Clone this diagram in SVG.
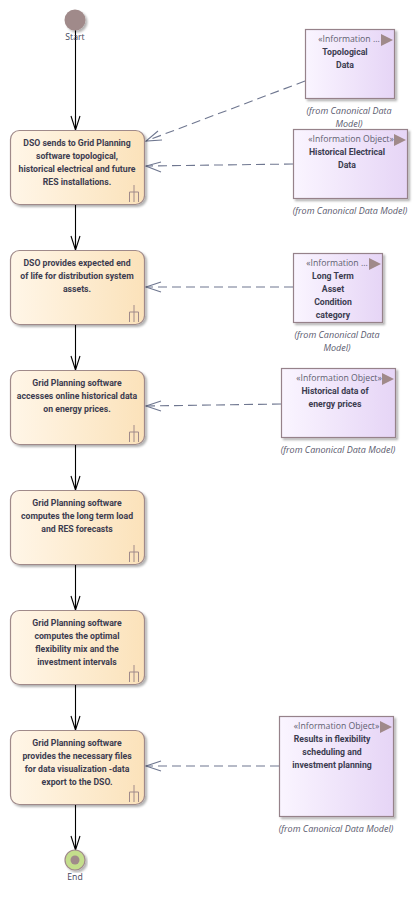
<svg xmlns="http://www.w3.org/2000/svg" width="418" height="903" viewBox="0 0 418 903">
<style>
text{font-family:"Open Sans","Noto Sans","DejaVu Sans",sans-serif;font-size:8.7px;text-anchor:middle;fill:#3c3c50}
.b{font-family:Roboto,"Open Sans",sans-serif;font-weight:700;font-size:8.700px}
.n{font-style:italic;fill:#5a5a6e;font-size:9px}
.s{fill:#5f5f70}
.sm{fill:#44445a;font-size:8.700px}
.act{fill:url(#ga);stroke:#a08a8a;stroke-width:1.2;filter:url(#sh)}
.inf{fill:url(#gi);stroke:#96828a;stroke-width:1.2;filter:url(#sh)}
.fork{fill:none;stroke:#a08a8a;stroke-width:1}
.tri{fill:#a08a8a}
.flow{fill:none;stroke:#000;stroke-width:1.1}
.dep{fill:none;stroke:#6f7790;stroke-width:1.1;stroke-dasharray:9 5}
.hd{fill:none;stroke:#6f7790;stroke-width:1.1}
</style>
<defs>
<linearGradient id="ga"><stop offset="0" stop-color="#fff6e8"/><stop offset="1" stop-color="#fbe2ba"/></linearGradient>
<linearGradient id="gi"><stop offset="0" stop-color="#faf5ff"/><stop offset="1" stop-color="#e6d5f6"/></linearGradient>
<filter id="sh" x="-10%" y="-10%" width="125%" height="125%"><feDropShadow dx="2" dy="2" stdDeviation="1" flood-color="#000" flood-opacity=".3"/></filter>
<path id="ah" d="M-4.500 -14L0 0L4.500 -14M0 -14V0" fill="none" stroke="#000" stroke-width="1.1"/>
<path id="fk" d="M0 0V17M-4.500 17V7H4.500V17" class="fork"/>
</defs>
<g id="connectors">
<path class="flow" d="M75.500 30V130M75.500 205V250M75.500 325V370M75.500 445V490M75.500 565V610M75.500 685V730M75.500 805V850"/>
<use href="#ah" x="75.500" y="130"/><use href="#ah" x="75.500" y="250"/><use href="#ah" x="75.500" y="370"/><use href="#ah" x="75.500" y="490"/><use href="#ah" x="75.500" y="610"/><use href="#ah" x="75.500" y="730"/><use href="#ah" x="75.500" y="850"/>
<path class="dep" d="M305 81L146 141"/><path class="hd" d="M158 131L146 141L162 140"/>
<path class="dep" d="M293 164L146 166"/><path class="hd" d="M161 162L146 166L161 172"/>
<path class="dep" d="M293 287L146 287"/><path class="hd" d="M161 282L146 287L161 292"/>
<path class="dep" d="M281 404L146 406"/><path class="hd" d="M161 401L146 406L161 411"/>
<path class="dep" d="M279 766L146 766"/><path class="hd" d="M161 761L146 766L161 771"/>
</g>
<g id="start"><circle cx="75" cy="20" r="10.500" fill="#a08a8a" filter="url(#sh)"/><text class="sm" x="75" y="40">Start</text></g>
<g id="end"><circle cx="75" cy="860" r="10" fill="#c4de8c" stroke="#a08a8a" stroke-width="1.2" filter="url(#sh)"/><circle cx="75" cy="860" r="4.500" fill="#a08a8a"/><text class="sm" x="75" y="880">End</text></g>
<g id="a1"><rect class="act" x="10.500" y="130.500" width="134" height="74" rx="9"/><use href="#fk" x="134" y="185"/><text class="b" x="77" y="146">DSO sends to Grid Planning</text><text class="b" x="77" y="159">software topological,</text><text class="b" x="77" y="172">historical electrical and future</text><text class="b" x="77" y="185">RES installations.</text></g>
<g id="a2"><rect class="act" x="10.500" y="250.500" width="134" height="74" rx="9"/><use href="#fk" x="134" y="305"/><text class="b" x="77" y="266">DSO provides expected end</text><text class="b" x="77" y="279">of life for distribution system</text><text class="b" x="77" y="292">assets.</text></g>
<g id="a3"><rect class="act" x="10.500" y="370.500" width="134" height="74" rx="9"/><use href="#fk" x="134" y="425"/><text class="b" x="77" y="386">Grid Planning software</text><text class="b" x="77" y="399">accesses online historical data</text><text class="b" x="77" y="412">on energy prices.</text></g>
<g id="a4"><rect class="act" x="10.500" y="490.500" width="134" height="74" rx="9"/><use href="#fk" x="134" y="545"/><text class="b" x="77" y="506">Grid Planning software</text><text class="b" x="77" y="519">computes the long term load</text><text class="b" x="77" y="532">and RES forecasts</text></g>
<g id="a5"><rect class="act" x="10.500" y="610.500" width="134" height="74" rx="9"/><use href="#fk" x="134" y="665"/><text class="b" x="77" y="626">Grid Planning software</text><text class="b" x="77" y="639">computes the optimal</text><text class="b" x="77" y="652">flexibility mix and the</text><text class="b" x="77" y="665">investment intervals</text></g>
<g id="a6"><rect class="act" x="10.500" y="730.500" width="134" height="74" rx="9"/><use href="#fk" x="134" y="785"/><text class="b" x="77" y="746">Grid Planning software</text><text class="b" x="77" y="759">provides the necessary files</text><text class="b" x="77" y="772">for data visualization -data</text><text class="b" x="77" y="785">export to the DSO.</text></g>
<g id="i1"><rect class="inf" x="305.500" y="29.500" width="89" height="69"/><path class="tri" d="M381 34L393 40L381 46Z"/><text class="s" x="349" y="42">«Information ...</text><text class="b" x="345" y="55">Topological</text><text class="b" x="345" y="68">Data</text><text class="n" x="349" y="114">(from Canonical Data</text><text class="n" x="349" y="127">Model)</text></g>
<g id="i2"><rect class="inf" x="293.500" y="129.500" width="114" height="69"/><path class="tri" d="M394 134L406 140L394 146Z"/><text class="s" x="351" y="142">«Information Object»</text><text class="b" x="347" y="155">Historical Electrical</text><text class="b" x="347" y="168">Data</text><text class="n" x="350" y="214">(from Canonical Data Model)</text></g>
<g id="i3"><rect class="inf" x="293.500" y="253.500" width="89" height="69"/><path class="tri" d="M369 258L381 264L369 270Z"/><text class="s" x="337" y="266">«Information ...</text><text class="b" x="333" y="279">Long Term</text><text class="b" x="333" y="292">Asset</text><text class="b" x="333" y="305">Condition</text><text class="b" x="333" y="318">category</text><text class="n" x="337" y="338">(from Canonical Data</text><text class="n" x="337" y="351">Model)</text></g>
<g id="i4"><rect class="inf" x="281.500" y="368.500" width="114" height="69"/><path class="tri" d="M382 373L394 379L382 385Z"/><text class="s" x="339" y="381">«Information Object»</text><text class="b" x="335" y="394">Historical data of</text><text class="b" x="335" y="407">energy prices</text><text class="n" x="338" y="453">(from Canonical Data Model)</text></g>
<g id="i5"><rect class="inf" x="279.500" y="716.500" width="114" height="100"/><path class="tri" d="M380 721L392 727L380 733Z"/><text class="s" x="336.500" y="729">«Information Object»</text><text class="b" x="332" y="742">Results in flexibility</text><text class="b" x="332" y="755">scheduling and</text><text class="b" x="332" y="768">investment planning</text><text class="n" x="336" y="832">(from Canonical Data Model)</text></g>
</svg>
